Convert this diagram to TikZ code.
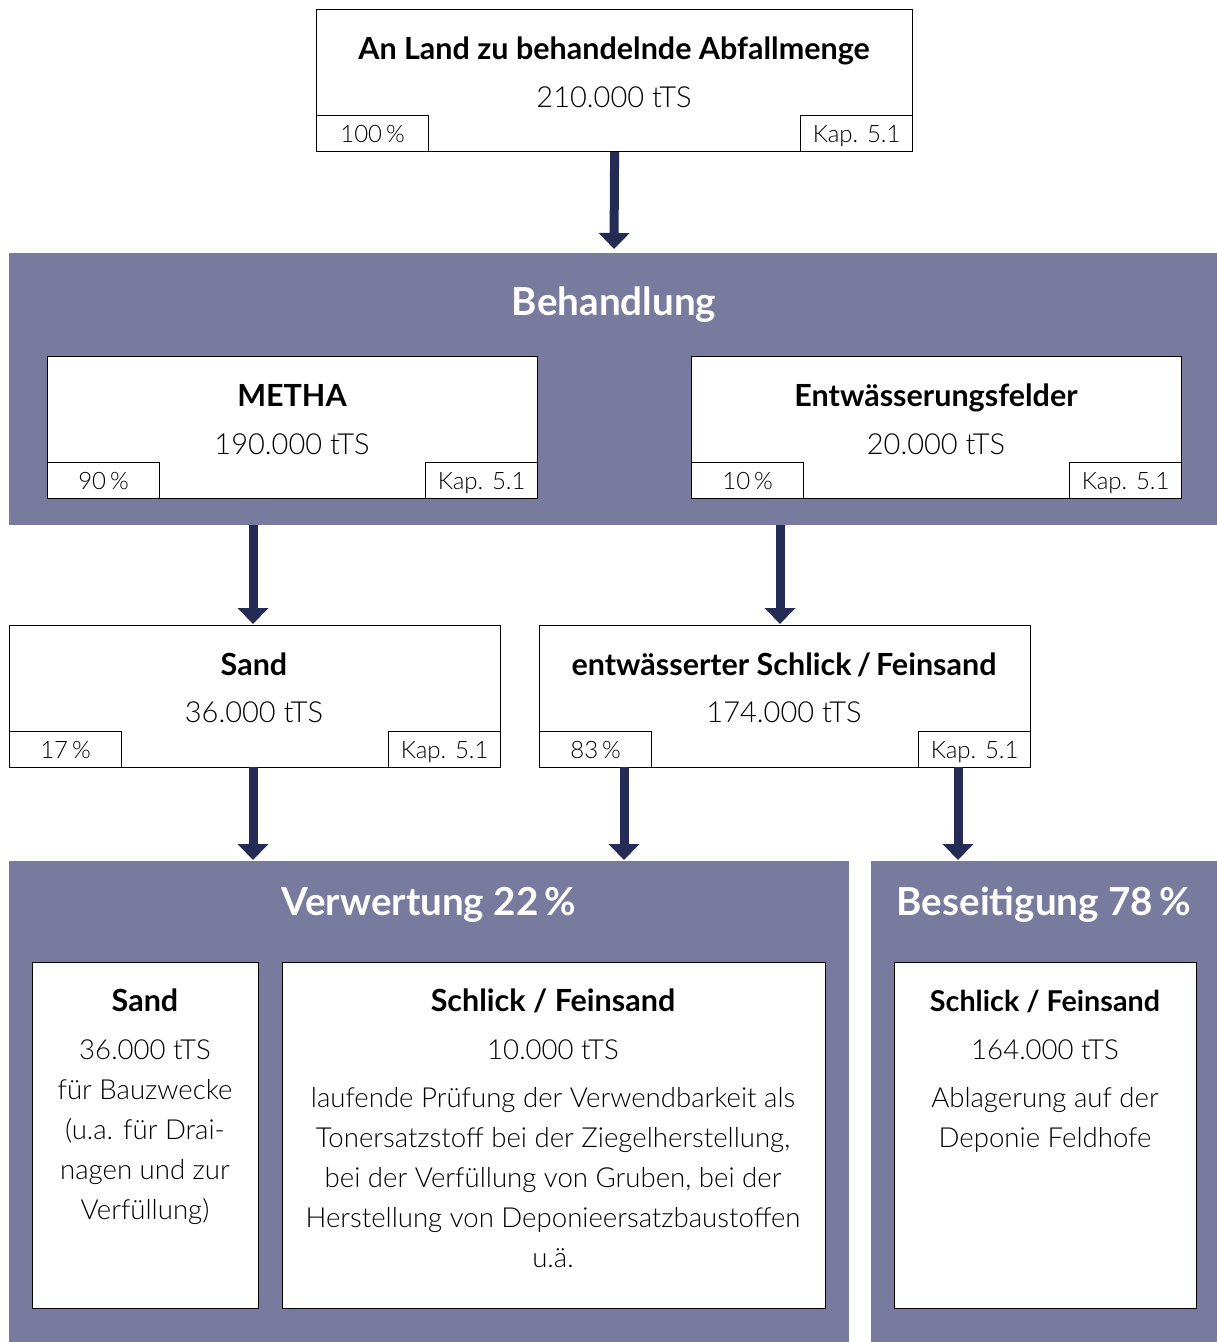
\documentclass[tikz,border=0pt]{standalone}
\usepackage{fontspec}
\setmainfont{Lato}
\newfontfamily\lt{Lato Light}
\usetikzlibrary{arrows.meta}
\definecolor{band}{HTML}{787A9E}
\definecolor{arrc}{HTML}{242C55}
\begin{document}
\begin{tikzpicture}[x=1pt,y=-1pt,
  bandbox/.style={fill=band, draw=none, anchor=north west, inner sep=0pt},
  wbox/.style={draw=black, line width=1.2pt, fill=white, anchor=north west, inner sep=0pt},
  tabbox/.style={draw=black, line width=1.2pt, fill=white, anchor=north west, inner sep=0pt,
     minimum width=112pt, minimum height=36pt, font=\lt\fontsize{24}{24}\selectfont,
     text height=17.2pt, text depth=0pt},
  ttl/.style={font=\bfseries\fontsize{30.5}{30.5}\selectfont, inner sep=0pt, text height=21.9pt, text depth=0pt},
  ttlsm/.style={font=\bfseries\fontsize{28.7}{28.7}\selectfont, inner sep=0pt, text height=20.6pt, text depth=0pt},
  val/.style={font=\lt\fontsize{29}{29}\selectfont, inner sep=0pt, text height=20.8pt, text depth=0pt},
  body/.style={font=\lt\fontsize{27.6}{27.6}\selectfont, inner sep=0pt, text height=19.8pt, text depth=0pt},
  head/.style={font=\bfseries\fontsize{38.6}{38.6}\selectfont, text=white, inner sep=0pt, text height=27.7pt, text depth=0pt},
  arr/.style={draw=arrc, line width=9pt, -{Triangle[width=30pt,length=16pt]}}
]
\useasboundingbox (0,0) rectangle (1217,1342);
\fill[white] (0,0) rectangle (1217,1342);

% ---- top box
\node[wbox, minimum width=596pt, minimum height=142pt] (top) at (316,9) {};
\node[ttl] (topt) at (614,49) {An Land zu behandelnde Abfallmenge};
\node[val] (topv) at (614,97) {210.000 tTS};
\node[tabbox] (topp) at (316,115) {100\,\%};
\node[tabbox] (topk) at (800,115) {Kap. 5.1};

% ---- Behandlung band
\node[bandbox, minimum width=1208pt, minimum height=272pt] (beh) at (9,253) {};
\node[head] (beht) at (614,302) {Behandlung};

\node[wbox, minimum width=490pt, minimum height=142pt] (metha) at (47,356) {};
\node[ttl] (methat) at (292,396) {METHA};
\node[val] (methav) at (292,444) {190.000 tTS};
\node[tabbox] (methap) at (47,462) {90\,\%};
\node[tabbox] (methak) at (425,462) {Kap. 5.1};

\node[wbox, minimum width=490pt, minimum height=142pt] (felder) at (691,356) {};
\node[ttl] (feldert) at (936,396) {Entwässerungsfelder};
\node[val] (felderv) at (936,444) {20.000 tTS};
\node[tabbox] (felderp) at (691,462) {10\,\%};
\node[tabbox] (felderk) at (1069,462) {Kap. 5.1};

% ---- middle row
\node[wbox, minimum width=491pt, minimum height=142pt] (sand) at (9,625) {};
\node[ttl] (sandt) at (254,665) {Sand};
\node[val] (sandv) at (254,712) {36.000 tTS};
\node[tabbox] (sandp) at (9,731) {17\,\%};
\node[tabbox] (sandk) at (388,731) {Kap. 5.1};

\node[wbox, minimum width=491pt, minimum height=142pt] (schl) at (539,625) {};
\node[ttl] (schlt) at (784,665) {entwässerter Schlick\,/\,Feinsand};
\node[val] (schlv) at (784,712) {174.000 tTS};
\node[tabbox] (schlp) at (539,731) {83\,\%};
\node[tabbox] (schlk) at (918,731) {Kap. 5.1};

% ---- bottom bands
\node[bandbox, minimum width=840pt, minimum height=481pt] (verw) at (9,861) {};
\node[head] (verwt) at (429,902) {Verwertung 22\,\%};
\node[bandbox, minimum width=346pt, minimum height=481pt] (bes) at (871,861) {};
\node[head] (best) at (1044,902) {Beseitigung 78\,\%};

% Sand (Verwertung)
\node[wbox, minimum width=226pt, minimum height=346pt] (vsand) at (32,962) {};
\node[ttl] (vsandt) at (145,1001) {Sand};
\node[body] (vs1) at (145,1050) {36.000 tTS};
\node[body] (vs2) at (145,1090) {für Bauzwecke};
\node[body] (vs3) at (145,1130) {(u.a. für Drai-};
\node[body] (vs4) at (145,1170) {nagen und zur};
\node[body] (vs5) at (145,1210) {Verfüllung)};

% Schlick (Verwertung)
\node[wbox, minimum width=543pt, minimum height=346pt] (vschl) at (282,962) {};
\node[ttl] (vschlt) at (553,1001) {Schlick / Feinsand};
\node[body] (vc1) at (553,1050) {10.000 tTS};
\node[body] (vc2) at (553,1098) {laufende Prüfung der Verwendbarkeit als};
\node[body] (vc3) at (553,1138) {Tonersatzstoff bei der Ziegelherstellung,};
\node[body] (vc4) at (553,1178) {bei der Verfüllung von Gruben, bei der};
\node[body] (vc5) at (553,1218) {Herstellung von Deponieersatzbaustoffen};
\node[body] (vc6) at (553,1258) {u.ä.};

% Schlick (Beseitigung)
\node[wbox, minimum width=302pt, minimum height=346pt] (bschl) at (894,962) {};
\node[ttlsm] (bschlt) at (1045,1001) {Schlick / Feinsand};
\node[body] (bc1) at (1045,1050) {164.000 tTS};
\node[body] (bc2) at (1045,1098) {Ablagerung auf der};
\node[body] (bc3) at (1045,1138) {Deponie Feldhofe};

% ---- arrows
\coordinate (a1e) at (614,249);
\coordinate (a2s) at (253,525);
\coordinate (a2e) at (253,624);
\coordinate (a3s) at (780,525);
\coordinate (a3e) at (780,624);
\coordinate (a4s) at (253,767);
\coordinate (a4e) at (253,860);
\coordinate (a5s) at (624,767);
\coordinate (a5e) at (624,860);
\coordinate (a6s) at (958,767);
\coordinate (a6e) at (958,860);
\draw[arr] (top.south) -- (a1e);
\draw[arr] (a2s) -- (a2e);
\draw[arr] (a3s) -- (a3e);
\draw[arr] (a4s) -- (a4e);
\draw[arr] (a5s) -- (a5e);
\draw[arr] (a6s) -- (a6e);
\end{tikzpicture}
\end{document}
